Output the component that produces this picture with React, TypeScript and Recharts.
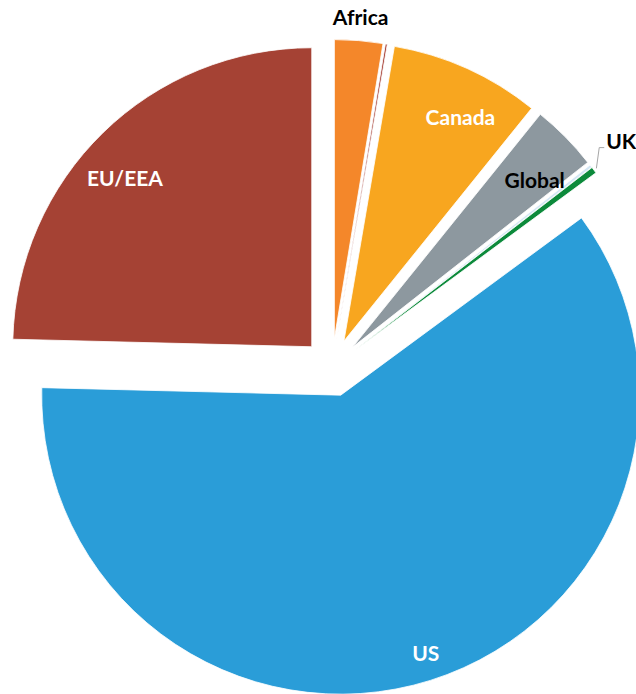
import React from 'react';
import { PieChart, Pie, Sector } from 'recharts';

// ---- data ----
const categories = ['Africa', 'Other (Africa)', 'Canada', 'Global', 'Other (Global)', 'UK', 'US', 'EU/EEA'];
const shares = [2.6, 0.1, 8.1, 3.6, 0.15, 0.35, 60.5, 24.6];
const labelShown = [true, false, true, true, false, true, true, true];

// ---- styling ----
const colors = ['#F4872A', '#A2372C', '#F8A61F', '#8D989F', '#D3E6F4', '#0C8A3B', '#2A9DD8', '#A54234'];
const labelColors = ['#000000', '#000000', '#FFFFFF', '#000000', '#000000', '#000000', '#FFFFFF', '#FFFFFF'];
// label placement: distance from the pie centre, and clockwise angular nudge (deg)
const labelRadius = [351, 0, 281, 276, 0, 367, 301, 280];
const labelShift = [0, 0, 2.9, 1.9, 0, -1.0, -0.7, -3.4];

const data = categories.map((name, i) => ({ name, value: shares[i] }));

const RAD = Math.PI / 180;
const EXPLODE = 29;
const FONT = 21;

function renderSector(props: any) {
  const { cx, cy, midAngle, outerRadius, startAngle, endAngle, index } = props;
  const ox = cx + EXPLODE * Math.cos(-midAngle * RAD);
  const oy = cy + EXPLODE * Math.sin(-midAngle * RAD);
  return (
    <Sector
      key={`s-${index}`}
      cx={ox}
      cy={oy}
      innerRadius={0}
      outerRadius={outerRadius}
      startAngle={startAngle}
      endAngle={endAngle}
      fill={colors[index]}
      stroke="#FFFFFF"
      strokeWidth={0.8}
    />
  );
}

function renderLabel(props: any) {
  const { cx, cy, midAngle, outerRadius, index } = props;
  if (!labelShown[index]) return <g key={`l-${index}`} />;
  const a = midAngle - labelShift[index];
  const r = labelRadius[index];
  const x = cx + r * Math.cos(-a * RAD);
  const y = cy + r * Math.sin(-a * RAD);
  const text = (
    <text
      x={x}
      y={y + FONT * 0.35}
      textAnchor="middle"
      fill={labelColors[index]}
      style={{ fontFamily: 'Lato, "Open Sans", sans-serif', fontWeight: 700, fontSize: FONT }}
    >
      {categories[index]}
    </text>
  );
  if (categories[index] === 'UK') {
    const rs = EXPLODE + outerRadius + 3;
    const sx = cx + rs * Math.cos(-midAngle * RAD);
    const sy = cy + rs * Math.sin(-midAngle * RAD);
    const ey = y + 6;
    const pts = `${sx},${sy} ${x - 22},${ey} ${x - 17},${ey}`;
    return (
      <g key={`l-${index}`}>
        <polyline points={pts} fill="none" stroke="#A6A6A6" strokeWidth={1} />
        {text}
      </g>
    );
  }
  return <g key={`l-${index}`}>{text}</g>;
}

export default function App() {
  return (
    <div style={{ position: 'absolute', left: 0, top: 0, width: 636, height: 694, background: '#fff' }}>
      <PieChart width={636} height={694} margin={{ top: 0, right: 0, bottom: 0, left: 0 }}>
        <Pie
          data={data}
          dataKey="value"
          nameKey="name"
          cx={332}
          cy={367.5}
          innerRadius={0}
          outerRadius={299}
          startAngle={90}
          endAngle={-270}
          fill="none"
          stroke="none"
          label={renderSector}
          labelLine={false}
          isAnimationActive={false}
        />
        <Pie
          data={data}
          dataKey="value"
          nameKey="name"
          cx={332}
          cy={367.5}
          innerRadius={0}
          outerRadius={299}
          startAngle={90}
          endAngle={-270}
          fill="none"
          stroke="none"
          label={renderLabel}
          labelLine={false}
          isAnimationActive={false}
        />
      </PieChart>
    </div>
  );
}
